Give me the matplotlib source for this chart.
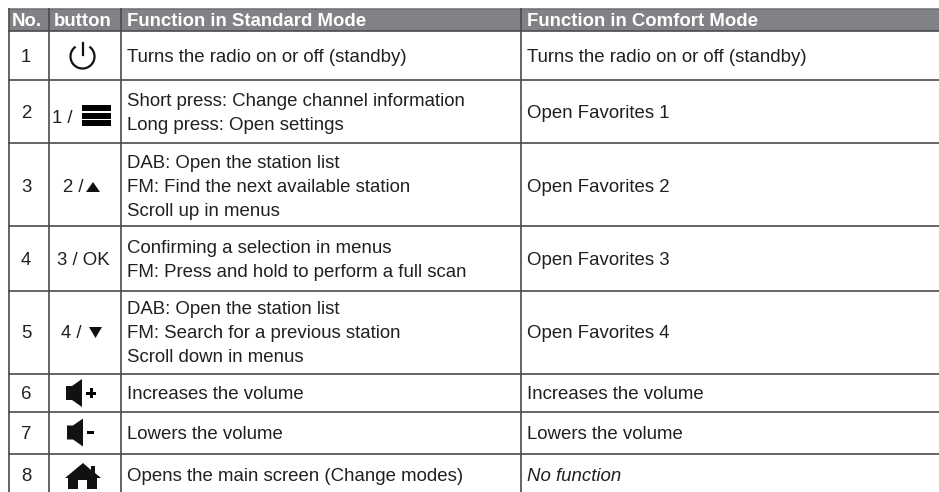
import matplotlib
matplotlib.use("Agg")
import matplotlib.pyplot as plt
from matplotlib.patches import Arc, Polygon, Rectangle

plt.rcParams["font.family"] = ["Liberation Sans", "DejaVu Sans"]

HEADERS = ["No.", "button", "Function in Standard Mode", "Function in Comfort Mode"]
NUMBERS = ["1", "2", "3", "4", "5", "6", "7", "8"]
STANDARD = [
    ["Turns the radio on or off (standby)"],
    ["Short press: Change channel information", "Long press: Open settings"],
    ["DAB: Open the station list", "FM: Find the next available station", "Scroll up in menus"],
    ["Confirming a selection in menus", "FM: Press and hold to perform a full scan"],
    ["DAB: Open the station list", "FM: Search for a previous station", "Scroll down in menus"],
    ["Increases the volume"],
    ["Lowers the volume"],
    ["Opens the main screen (Change modes)"],
]
COMFORT = [
    "Turns the radio on or off (standby)",
    "Open Favorites 1",
    "Open Favorites 2",
    "Open Favorites 3",
    "Open Favorites 4",
    "Increases the volume",
    "Lowers the volume",
    "No function",
]

# layout in image pixels
W, H = 939, 492
COL_X = [8.5, 48.5, 120.5, 520.5]
ROW_Y = [31, 79.5, 143, 226, 290.5, 373.5, 412, 454]
ROW_MID = [62, 118, 192, 265, 338, 399, 439, 481]
LINE_GAP = 23.7
FS = 13.4
INK = "#231f20"
GRID = "#4a4a4c"

fig = plt.figure(figsize=(W / 100, H / 100), dpi=100)
ax = fig.add_axes([0, 0, 1, 1])
ax.set_xlim(0, W)
ax.set_ylim(H, 0)
ax.axis("off")

# header band
ax.add_patch(Rectangle((COL_X[0], 9), W - COL_X[0], 22, fc="#808285", ec="none"))
ax.plot([COL_X[0], W], [9, 9], color="#6d6e71", lw=1.1)
header_x = [12, 54, 127, 527]
for x, t in zip(header_x, HEADERS):
    ax.text(x, 26.5, t, color="white", fontweight="bold", fontsize=FS, va="baseline")

# grid
for y in ROW_Y:
    ax.plot([COL_X[0], W], [y, y], color=GRID, lw=1.2)
for x in COL_X:
    ax.plot([x, x], [9, H], color=GRID, lw=1.2)

# cell text
for i, num in enumerate(NUMBERS):
    mid = ROW_MID[i]
    ax.text(26, mid, num, color=INK, fontsize=FS, ha="center", va="baseline")
    lines = STANDARD[i]
    first = mid - (len(lines) - 1) * LINE_GAP / 2
    for k, line in enumerate(lines):
        ax.text(127, first + k * LINE_GAP, line, color=INK, fontsize=FS, va="baseline")
    ax.text(527, mid, COMFORT[i], color=INK, fontsize=FS, va="baseline",
            style="italic" if i == 7 else "normal")

ax.text(52, 123, "1 /", color=INK, fontsize=FS, va="baseline")
ax.text(63, 192, "2 /", color=INK, fontsize=FS, va="baseline")
ax.text(57, 265, "3 / OK", color=INK, fontsize=FS, va="baseline")
ax.text(61, 338, "4 /", color=INK, fontsize=FS, va="baseline")

# button icons
ax.add_patch(Polygon([(86, 192), (100, 192), (93, 182)], fc="#111111", ec="none"))
ax.add_patch(Polygon([(89, 327), (102, 327), (95.5, 338)], fc="#111111", ec="none"))

ax.add_patch(Arc((82.5, 56.5), 24, 24, theta1=-55, theta2=235, color="#111111", lw=1.6))
ax.plot([82.7, 82.7], [43, 55], color="#111111", lw=1.6)

for y in (105, 112.5, 120):
    ax.add_patch(Rectangle((82, y), 28.5, 6, fc="black", ec="none"))


def speaker(x0, y_mid):
    ax.add_patch(Polygon([(x0, y_mid - 7), (x0 + 6, y_mid - 7), (x0 + 16, y_mid - 14),
                          (x0 + 16, y_mid + 14), (x0 + 6, y_mid + 7), (x0, y_mid + 7)],
                         fc="#111111", ec="none"))


speaker(66, 393)
ax.add_patch(Rectangle((86, 391.5), 10, 3, fc="black", ec="none"))
ax.add_patch(Rectangle((89.5, 388), 3, 10, fc="black", ec="none"))
speaker(67, 432.5)
ax.add_patch(Rectangle((87, 430.5), 7, 3.5, fc="black", ec="none"))

ax.add_patch(Polygon([(65, 478), (83, 463), (91, 470), (91, 466), (95, 466), (95, 473), (101, 478),
                      (97, 478), (97, 489), (87, 489), (87, 480), (78, 480), (78, 489),
                      (68, 489), (68, 478)], fc="#111111", ec="none"))

fig.savefig("out.png", dpi=100, facecolor="white")
